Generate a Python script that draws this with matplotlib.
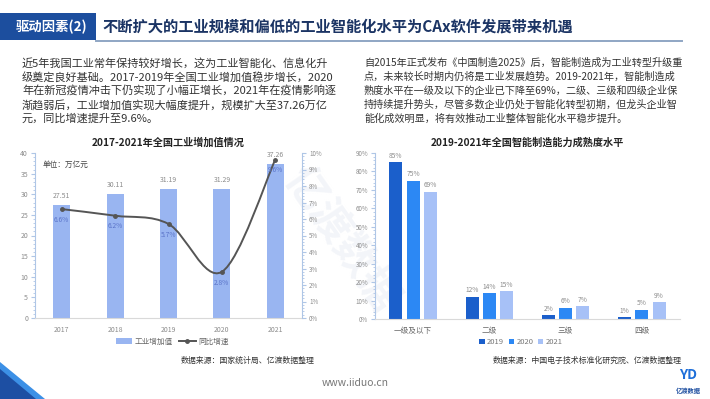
import matplotlib
matplotlib.use('Agg')
import matplotlib.pyplot as plt
import numpy as np
from matplotlib.patches import Rectangle, Polygon, Patch, PathPatch
from matplotlib.lines import Line2D
from matplotlib.path import Path
from matplotlib.ticker import MultipleLocator, FuncFormatter

plt.rcParams['font.family'] = ['Noto Sans CJK SC', 'DejaVu Sans']

# ---------------- data ----------------
years = ['2017', '2018', '2019', '2020', '2021']
industry_value = [27.51, 30.11, 31.19, 31.29, 37.26]   # 万亿元
growth_rate = [6.6, 6.2, 5.7, 2.8, 9.6]                 # %

levels = ['一级及以下', '二级', '三级', '四级']
series_years = ['2019', '2020', '2021']
maturity_2019 = [85, 12, 2, 1]
maturity_2020 = [75, 14, 6, 5]
maturity_2021 = [69, 15, 7, 9]

header_tag = '驱动因素(2)'
header_title = '不断扩大的工业规模和偏低的工业智能化水平为CAx软件发展带来机遇'
left_para = ['近5年我国工业常年保持较好增长，这为工业智能化、信息化升',
             '级奠定良好基础。2017-2019年全国工业增加值稳步增长，2020',
             '年在新冠疫情冲击下仍实现了小幅正增长，2021年在疫情影响逐',
             '渐趋弱后，工业增加值实现大幅度提升，规模扩大至37.26万亿',
             '元，同比增速提升至9.6%。']
right_para = ['自2015年正式发布《中国制造2025》后，智能制造成为工业转型升级重',
              '点，未来较长时期内仍将是工业发展趋势。2019-2021年，智能制造成',
              '熟度水平在一级及以下的企业已下降至69%，二级、三级和四级企业保',
              '持持续提升势头，尽管多数企业仍处于智能化转型初期，但龙头企业智',
              '能化成效明显，将有效推动工业整体智能化水平稳步提升。']

# ---------------- figure ----------------
W, H = 710, 399
fig = plt.figure(figsize=(7.1, 3.99), dpi=100)
fig.patch.set_facecolor('white')

def fx(x): return x / W
def fy(y): return 1 - y / H
def txt(x, y, s, **kw):
    kw.setdefault('va', 'center')
    return fig.text(fx(x), fy(y), s, **kw)
def axes_px(l, t, r, b):
    return fig.add_axes([fx(l), fy(b), (r - l) / W, (b - t) / H])

# background layer for the faint watermark
bg = fig.add_axes([0, 0, 1, 1], zorder=-10)
bg.set_axis_off()
bg.set_xlim(0, W)
bg.set_ylim(H, 0)
bg.text(340, 240, '亿渡数据', fontsize=30, color='#F3F5F9', rotation=-55,
        ha='center', va='center', fontweight='bold')

NAVY = '#1C4E9E'
# header
fig.add_artist(Rectangle((0, fy(40)), 96 / W, 27 / H, transform=fig.transFigure,
                         facecolor=NAVY, edgecolor='none'))
txt(52, 26.5, header_tag, color='white', fontsize=9.6, fontweight='bold', ha='center')
txt(102, 26.5, header_title, color='#1B3464', fontsize=11.0, fontweight='bold', ha='left')
fig.add_artist(Line2D([fx(96), fx(682)], [fy(40.5), fy(40.5)], transform=fig.transFigure,
                      color='#8FA6C4', lw=1.4))

# paragraphs
for i, s in enumerate(left_para):
    txt(22, 63 + i * 14.0, s, fontsize=8.0, color='#333333', ha='left')
for i, s in enumerate(right_para):
    txt(364, 63 + i * 14.0, s, fontsize=7.3, color='#333333', ha='left')

AXC = '#AFC6E6'
TICKC = '#8C8C8C'

# ---------------- left chart ----------------
ax = axes_px(35, 153, 302, 318)
ax.patch.set_alpha(0)
x = np.arange(len(years))
bars = ax.bar(x, industry_value, width=0.32, color='#99B5F1', zorder=2, label='工业增加值')
ax.set_xlim(-0.5, len(years) - 0.5)
ax.set_ylim(0, 40)
ax.yaxis.set_major_locator(MultipleLocator(5))
ax.yaxis.set_minor_locator(MultipleLocator(1))
ax.set_xticks(x)
ax.set_xticklabels(years)
for sp in ['top', 'right']:
    ax.spines[sp].set_visible(False)
ax.spines['left'].set_color(AXC)
ax.spines['bottom'].set_color('#D9D9D9')
ax.tick_params(axis='y', which='major', length=3, color=AXC, labelsize=5, labelcolor=TICKC, pad=2)
ax.tick_params(axis='y', which='minor', length=1.5, color=AXC)
ax.tick_params(axis='x', length=0, labelsize=5, labelcolor=TICKC, pad=6)
for xi, v in zip(x, industry_value):
    ax.text(xi, v + 1.2, f'{v:.2f}', ha='center', va='bottom', fontsize=5, color='#8C8C8C')
ax.text(0.03, 0.93, '单位：万亿元', transform=ax.transAxes, fontsize=5.5, color='#444444', va='center')

ax2 = ax.twinx()
ax2.set_ylim(0, 10)
ax2.yaxis.set_major_locator(MultipleLocator(1))
ax2.yaxis.set_minor_locator(MultipleLocator(0.2))
ax2.yaxis.set_major_formatter(FuncFormatter(lambda v, p: f'{v:.0f}%'))
for sp in ['top', 'left', 'bottom']:
    ax2.spines[sp].set_visible(False)
ax2.spines['right'].set_color(AXC)
ax2.tick_params(axis='y', which='major', length=3, color=AXC, labelsize=4.5, labelcolor=TICKC, pad=2)
ax2.tick_params(axis='y', which='minor', length=1.5, color=AXC)

# smooth curve (Catmull-Rom through data points)
pts = np.column_stack([x, growth_rate]).astype(float)
ext = np.vstack([pts[0], pts, pts[-1]])
verts = [tuple(pts[0])]
codes = [Path.MOVETO]
for i in range(len(pts) - 1):
    p0, p1, p2, p3 = ext[i], ext[i + 1], ext[i + 2], ext[i + 3]
    c1 = p1 + (p2 - p0) / 6
    c2 = p2 - (p3 - p1) / 6
    verts += [tuple(c1), tuple(c2), tuple(p2)]
    codes += [Path.CURVE4] * 3
ax2.add_patch(PathPatch(Path(verts, codes), facecolor='none', edgecolor='#555555', lw=1.4, zorder=3))
line, = ax2.plot(x, growth_rate, 'o', color='#555555', ms=2.5, zorder=4)
for xi, v in zip(x, growth_rate):
    ax2.text(xi, v - 0.65, f'{v}%', ha='center', va='center', fontsize=4.8, color='#5B74C9', zorder=5)

lh = [Patch(facecolor='#99B5F1', edgecolor='none'),
      Line2D([], [], color='#555555', lw=1.4, marker='o', ms=2.5)]
fig.legend(lh, ['工业增加值', '同比增速'], loc='center', bbox_to_anchor=(fx(172), fy(342)),
           ncol=2, frameon=False, fontsize=5.5, handlelength=2.2, handleheight=0.8,
           columnspacing=0.8, handletextpad=0.3, labelcolor='#666666')

ax.set_title('2017-2021年全国工业增加值情况', fontsize=7.3, fontweight='bold', color='#222222', pad=5)
txt(315, 360, '数据来源：国家统计局、亿渡数据整理', fontsize=5.7, color='#333333', ha='right')

# ---------------- right chart ----------------
bx = axes_px(375, 153, 680, 319)
bx.patch.set_alpha(0)
xl = np.arange(len(levels))
colors = ['#1B5FCB', '#2C88F4', '#A7C1F7']
series = [maturity_2019, maturity_2020, maturity_2021]
bw = 0.17
off = 0.225
for k, (vals, c, lab) in enumerate(zip(series, colors, series_years)):
    pos = xl + (k - 1) * off
    bx.bar(pos, vals, width=bw, color=c, label=lab, zorder=2)
    for p, v in zip(pos, vals):
        bx.text(p, v + 3.5, f'{v}%', ha='center', va='center', fontsize=4.8, color='#8C8C8C')
bx.set_xlim(-0.5, len(levels) - 0.5)
bx.set_ylim(0, 90)
bx.yaxis.set_major_locator(MultipleLocator(10))
bx.yaxis.set_minor_locator(MultipleLocator(2))
bx.yaxis.set_major_formatter(FuncFormatter(lambda v, p: f'{v:.0f}%'))
bx.set_xticks(xl)
bx.set_xticklabels(levels)
for sp in ['top', 'right']:
    bx.spines[sp].set_visible(False)
bx.spines['left'].set_color(AXC)
bx.spines['bottom'].set_color('#D9D9D9')
bx.tick_params(axis='y', which='major', length=3, color=AXC, labelsize=4.5, labelcolor=TICKC, pad=2)
bx.tick_params(axis='y', which='minor', length=1.5, color=AXC)
bx.tick_params(axis='x', length=0, labelsize=5.5, labelcolor='#666666', pad=6)
bx.set_title('2019-2021年全国智能制造能力成熟度水平', fontsize=7.3, fontweight='bold', color='#222222', pad=5)
h, l = bx.get_legend_handles_labels()
fig.legend(h, l, loc='center', bbox_to_anchor=(fx(521), fy(342)), ncol=3, frameon=False,
           fontsize=5.5, handlelength=0.7, handleheight=0.7, columnspacing=0.6,
           handletextpad=0.3, labelcolor='#777777')
txt(682, 360, '数据来源：中国电子技术标准化研究院、亿渡数据整理', fontsize=5.7, color='#333333', ha='right')

# ---------------- footer ----------------
txt(355, 383, 'www.iiduo.cn', fontsize=7.5, color='#777777', ha='center')
fig.add_artist(Polygon([(0, fy(362)), (0, fy(399)), (fx(45), fy(399))], closed=True,
                       transform=fig.transFigure, facecolor='#3C90E6', edgecolor='none'))
fig.add_artist(Polygon([(0, fy(369)), (0, fy(399)), (fx(36), fy(399))], closed=True,
                       transform=fig.transFigure, facecolor='#1D4FA3', edgecolor='none'))
txt(688, 375, 'YD', fontsize=10, color='#1E6FD9', ha='center', fontweight='bold', style='italic')
txt(688, 391, '亿渡数据', fontsize=4.5, color='#1E4FA0', ha='center', fontweight='bold')

fig.savefig('out.png', dpi=100, facecolor='white')
